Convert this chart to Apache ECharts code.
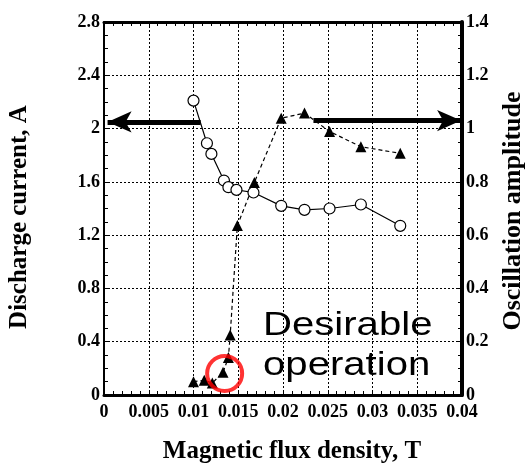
<!DOCTYPE html>
<html>
<head>
<meta charset="utf-8">
<script src="https://cdn.jsdelivr.net/npm/echarts@6/dist/echarts.min.js"></script>
<style>
  html, body { margin: 0; padding: 0; background: #fff; }
  #chart { width: 525px; height: 463px; }
</style>
</head>
<body>
<div id="chart"></div>
<script>
// Magnetic flux density (T) at which the discharge current was measured
const fluxCurrent = [0.0100, 0.0115, 0.0120, 0.0134, 0.0139, 0.0148, 0.0167, 0.0198, 0.0224, 0.0252, 0.0287, 0.0331];
// Discharge current (A)
const dischargeCurrent = [2.21, 1.89, 1.81, 1.61, 1.56, 1.54, 1.52, 1.42, 1.39, 1.40, 1.43, 1.27];

// Magnetic flux density (T) at which the oscillation amplitude was measured
const fluxOsc = [0.0100, 0.0112, 0.0121, 0.0133, 0.0139, 0.0141, 0.0149, 0.0168, 0.0198, 0.0224, 0.0252, 0.0287, 0.0331];
// Oscillation amplitude (normalised)
const oscAmplitude = [0.050, 0.055, 0.045, 0.085, 0.141, 0.225, 0.636, 0.798, 1.039, 1.058, 0.989, 0.932, 0.907];

// Axis ticks
const xTicks = [0, 0.005, 0.01, 0.015, 0.02, 0.025, 0.03, 0.035, 0.04];
const yLeftTicks = [0, 0.4, 0.8, 1.2, 1.6, 2, 2.4, 2.8];
const yRightTicks = [0, 0.2, 0.4, 0.6, 0.8, 1, 1.2, 1.4];

// Axis titles
const xTitle = 'Magnetic flux density, T';
const yLeftTitle = 'Discharge current, A';
const yRightTitle = 'Oscillation amplitude';

// Operating point highlighted with a ring (flux, amplitude)
const desiredPoint = [0.01348, 0.081];
// Arrows telling which axis each curve belongs to: [fromFlux, toFlux, level]
const leftArrow = [0.0108, 0.0004, 2.05];
const rightArrow = [0.0234, 0.0399, 1.03];

const serif = '"Liberation Serif", "Times New Roman", serif';
const pairs = (xs, ys) => xs.map((x, i) => [x, ys[i]]);

const tickLabel = { fontFamily: serif, fontWeight: 'bold', fontSize: 18, color: '#000' };
const gridLine = { show: true, lineStyle: { color: '#000', width: 1, type: [2, 2] } };

// Vertical axis title, rotated to read bottom-to-top
function verticalTitle(text, cx, cy, size) {
  return {
    type: 'text',
    x: cx, y: cy,
    rotation: Math.PI / 2,
    silent: true,
    style: {
      text: text,
      fontFamily: serif,
      fontWeight: 'bold',
      fontSize: size,
      fill: '#000',
      align: 'center',
      verticalAlign: 'middle'
    }
  };
}

const chart = echarts.init(document.getElementById('chart'), null, { renderer: 'canvas' });

chart.setOption({
  animation: false,
  backgroundColor: '#fff',
  grid: { left: 104, right: 63, top: 22, bottom: 68, containLabel: false, outerBoundsMode: 'none' },
  xAxis: [
    {
      type: 'value',
      min: xTicks[0], max: xTicks[xTicks.length - 1], interval: xTicks[1] - xTicks[0],
      name: xTitle,
      nameLocation: 'middle', nameGap: 44, nameMoveOverlap: false,
      nameTextStyle: { fontFamily: serif, fontWeight: 'bold', fontSize: 25, color: '#000', padding: [0, 0, 0, 18] },
      axisLine: { show: true, onZero: false, lineStyle: { color: '#000', width: 3 } },
      axisTick: { show: true, inside: true, length: 5, lineStyle: { color: '#000', width: 1 } },
      minorTick: { show: true, splitNumber: 5, length: 4, lineStyle: { color: '#000', width: 1 } },
      axisLabel: Object.assign({ margin: 8 }, tickLabel),
      splitLine: gridLine
    },
    {
      type: 'value', position: 'top',
      min: xTicks[0], max: xTicks[xTicks.length - 1], interval: xTicks[1] - xTicks[0],
      axisLine: { show: true, onZero: false, lineStyle: { color: '#000', width: 3 } },
      axisTick: { show: true, inside: true, length: 5, lineStyle: { color: '#000', width: 1 } },
      minorTick: { show: true, splitNumber: 5, length: 4, lineStyle: { color: '#000', width: 1 } },
      axisLabel: { show: false },
      splitLine: { show: false }
    }
  ],
  yAxis: [
    {
      type: 'value', position: 'left',
      min: yLeftTicks[0], max: yLeftTicks[yLeftTicks.length - 1], interval: yLeftTicks[1] - yLeftTicks[0],
      axisLine: { show: true, onZero: false, lineStyle: { color: '#000', width: 2 } },
      axisTick: { show: true, inside: true, length: 5, lineStyle: { color: '#000', width: 1 } },
      minorTick: { show: true, splitNumber: 4, length: 4, lineStyle: { color: '#000', width: 1 } },
      axisLabel: Object.assign({ margin: 4 }, tickLabel),
      splitLine: gridLine
    },
    {
      type: 'value', position: 'right',
      min: yRightTicks[0], max: yRightTicks[yRightTicks.length - 1], interval: yRightTicks[1] - yRightTicks[0],
      axisLine: { show: true, onZero: false, lineStyle: { color: '#000', width: 4 } },
      axisTick: { show: true, inside: true, length: 5, lineStyle: { color: '#000', width: 1 } },
      minorTick: { show: true, splitNumber: 4, length: 4, lineStyle: { color: '#000', width: 1 } },
      axisLabel: Object.assign({ margin: 4 }, tickLabel),
      splitLine: { show: false }
    }
  ],
  series: [
    {
      name: 'Discharge current',
      type: 'line',
      xAxisIndex: 0, yAxisIndex: 0,
      data: pairs(fluxCurrent, dischargeCurrent),
      symbol: 'circle', symbolSize: 11,
      itemStyle: { color: '#fff', borderColor: '#000', borderWidth: 1.2 },
      lineStyle: { color: '#000', width: 1.2 },
      z: 3,
      markLine: {
        silent: true,
        symbol: ['none', 'arrow'], symbolSize: [16, 24],
        label: { show: false },
        lineStyle: { color: '#000', width: 5, type: 'solid' },
        emphasis: { disabled: true },
        data: [[
          { coord: [leftArrow[0], leftArrow[2]] },
          { coord: [leftArrow[1], leftArrow[2]] }
        ]]
      }
    },
    {
      name: 'Oscillation amplitude',
      type: 'line',
      xAxisIndex: 0, yAxisIndex: 1,
      data: pairs(fluxOsc, oscAmplitude),
      symbol: 'triangle', symbolSize: 11,
      itemStyle: { color: '#000' },
      lineStyle: { color: '#000', width: 1.2, type: [4, 3] },
      z: 3,
      markLine: {
        silent: true,
        symbol: ['none', 'arrow'], symbolSize: [16, 24],
        label: { show: false },
        lineStyle: { color: '#000', width: 5, type: 'solid' },
        emphasis: { disabled: true },
        data: [[
          { coord: [rightArrow[0], rightArrow[2]] },
          { coord: [rightArrow[1], rightArrow[2]] }
        ]]
      }
    },
    {
      name: 'Desirable operation',
      type: 'scatter',
      xAxisIndex: 0, yAxisIndex: 1,
      data: [desiredPoint],
      symbol: 'circle', symbolSize: 35,
      itemStyle: { color: 'rgba(0,0,0,0)', borderColor: '#ff0000', borderWidth: 4 },
      silent: true,
      z: 4
    }
  ],
  graphic: [
    verticalTitle(yLeftTitle, 20, 217, 25),
    verticalTitle(yRightTitle, 513, 211, 26),
    {
      type: 'text',
      x: 263, y: 306,
      scaleX: 1.18,
      z: 10,
      silent: true,
      style: {
        text: 'Desirable\noperation',
        fontFamily: '"Liberation Sans", Arial, sans-serif',
        fontSize: 34,
        lineHeight: 40,
        fill: '#000',
        verticalAlign: 'top'
      }
    }
  ]
});
</script>
</body>
</html>
